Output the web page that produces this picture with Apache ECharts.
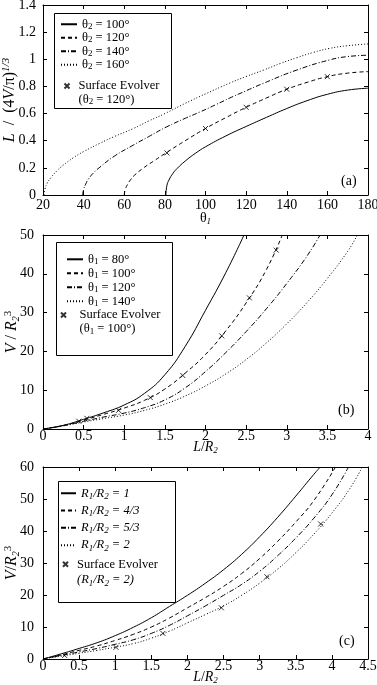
<!DOCTYPE html>
<html>
<head>
<meta charset="utf-8">
<script src="https://cdn.jsdelivr.net/npm/echarts@6/dist/echarts.min.js"></script>
<style>
html,body{margin:0;padding:0;background:#fff}
#main{width:377px;height:685px}
</style>
</head>
<body>
<div id="main"></div>
<script>
// (a) L/(4V/pi)^(1/3) against theta1, one curve per theta2
var a_t2_100 = [[80.5,0],[81,0.07],[82,0.11],[84,0.16],[86,0.195],[90,0.25],[95,0.307],[100,0.355],[110,0.435],[120,0.505],[130,0.572],[140,0.637],[150,0.695],[160,0.742],[170,0.773],[180,0.787]];
var a_t2_120 = [[60,0],[60.5,0.04],[61.5,0.075],[63,0.11],[65,0.145],[70,0.205],[75,0.255],[80,0.305],[90,0.4],[100,0.49],[110,0.57],[120,0.646],[130,0.715],[140,0.779],[150,0.83],[160,0.872],[170,0.898],[180,0.909]];
var a_t2_140 = [[39.5,0],[40,0.04],[41,0.08],[42.5,0.12],[45,0.165],[48,0.205],[55,0.285],[64.5,0.368],[72,0.43],[81,0.503],[90,0.565],[97,0.61],[105,0.665],[112,0.715],[117,0.748],[128.5,0.823],[145,0.921],[161,0.995],[170,1.02],[180,1.03]];
var a_t2_160 = [[20.5,0],[21,0.045],[22,0.085],[24,0.13],[27,0.18],[30,0.22],[35,0.275],[40,0.32],[48,0.381],[55,0.43],[64.5,0.49],[72,0.545],[80,0.6],[90,0.675],[100,0.745],[112,0.825],[120,0.873],[128.5,0.92],[137,0.97],[145,1.012],[153,1.05],[161,1.08],[170,1.1],[180,1.113]];
var a_evolver = [[81,0.31],[100,0.49],[120,0.646],[140,0.779],[160,0.872]];

// (b) V/R2^3 against L/R2, one curve per theta1
var b_t1_80 = [[0,0],[0.25,0.95],[0.5,2.5],[0.75,4.2],[1.0,6.2],[1.25,9.2],[1.5,14.0],[1.75,21.3],[2.0,30.6],[2.25,40.3],[2.474,50]];
var b_t1_100 = [[0,0],[0.25,0.9],[0.5,2.3],[0.75,3.8],[1.0,5.4],[1.25,7.4],[1.5,10.3],[1.75,14.4],[2.0,19.2],[2.25,25.3],[2.5,32.5],[2.75,41.1],[2.945,50]];
var b_t1_120 = [[0,0],[0.25,0.85],[0.5,2.0],[0.75,3.1],[1.0,4.1],[1.25,5.5],[1.5,7.5],[1.75,10.6],[2.0,14.8],[2.25,19.7],[2.5,25.1],[2.75,31.0],[3.0,37.5],[3.25,44.6],[3.41,50]];
var b_t1_140 = [[0,0],[0.25,0.8],[0.5,1.8],[0.75,2.7],[1.0,3.6],[1.25,4.8],[1.5,6.4],[1.75,8.5],[2.0,11.1],[2.25,14.2],[2.5,17.9],[2.75,22.2],[3.0,27.1],[3.25,32.6],[3.5,38.8],[3.75,45.8],[3.87,50]];
var b_evolver = [[0.44,2.0],[0.54,2.75],[0.93,4.8],[1.32,8.1],[1.72,13.8],[2.2,24.0],[2.54,33.8],[2.87,46.1]];

// (c) V/R2^3 against L/R2, one curve per R1/R2
var c_r_1 = [[0,0],[0.25,1.6],[0.5,3.3],[0.75,5.1],[1.0,7.3],[1.25,9.9],[1.5,12.9],[1.75,16.4],[2.0,19.9],[2.25,23.7],[2.5,27.9],[2.75,32.7],[3.0,38.2],[3.25,44.3],[3.5,50.9],[3.75,57.7],[3.84,60]];
var c_r_43 = [[0,0],[0.25,1.3],[0.5,2.7],[0.75,4.1],[1.0,5.8],[1.25,7.7],[1.5,10.0],[1.75,12.8],[2.0,16.0],[2.25,19.2],[2.5,22.7],[2.75,26.7],[3.0,31.4],[3.25,36.8],[3.5,42.8],[3.75,49.5],[4.05,60]];
var c_r_53 = [[0,0],[0.25,1.1],[0.5,2.2],[0.75,3.3],[1.0,4.6],[1.25,6.0],[1.5,8.0],[1.75,10.5],[2.0,13.5],[2.25,16.6],[2.5,19.9],[2.75,23.3],[3.0,27.4],[3.25,32.3],[3.5,37.8],[3.75,44.0],[4.0,51.3],[4.23,60]];
var c_r_2 = [[0,0],[0.25,0.9],[0.5,1.8],[0.75,2.7],[1.0,3.7],[1.25,4.8],[1.5,6.5],[1.75,8.7],[2.0,11.3],[2.25,13.9],[2.5,16.6],[2.75,19.9],[3.0,23.7],[3.25,28.1],[3.5,33.2],[3.75,39.0],[4.0,45.6],[4.25,53.3],[4.42,60]];
var c_evolver = [[0.3,1.1],[1.01,3.65],[1.66,8.0],[2.47,16.0],[3.1,25.7],[3.845,42.2]];

var legendText = {
  a1: 'θ{sub|2} = 100°', a2: 'θ{sub|2} = 120°', a3: 'θ{sub|2} = 140°', a4: 'θ{sub|2} = 160°',
  aSE: 'Surface Evolver\n(θ{sub|2} = 120°)',
  b1: 'θ{sub|1} = 80°', b2: 'θ{sub|1} = 100°', b3: 'θ{sub|1} = 120°', b4: 'θ{sub|1} = 140°',
  bSE: 'Surface Evolver\n(θ{sub|1} = 100°)',
  c1: '{i|R}{isub|1}{i|/R}{isub|2}{i| = 1}', c2: '{i|R}{isub|1}{i|/R}{isub|2}{i| = 4/3}',
  c3: '{i|R}{isub|1}{i|/R}{isub|2}{i| = 5/3}', c4: '{i|R}{isub|1}{i|/R}{isub|2}{i| = 2}',
  cSE: 'Surface Evolver\n{i|(R}{isub|1}{i|/R}{isub|2}{i| = 2)}'
};

var FONT = '"Liberation Serif", "Times New Roman", serif';
var rich = {
  i: {fontFamily: FONT, fontStyle: 'italic'},
  sub: {fontFamily: FONT, fontSize: 9, verticalAlign: 'bottom'},
  isub: {fontFamily: FONT, fontSize: 9, fontStyle: 'italic', verticalAlign: 'bottom'},
  sup: {fontFamily: FONT, fontSize: 9, verticalAlign: 'top'},
  isup: {fontFamily: FONT, fontSize: 9, fontStyle: 'italic', verticalAlign: 'top'}
};
// axis-name variant, a little larger
var richName = {
  i: {fontFamily: FONT, fontStyle: 'italic', fontSize: 16},
  sub: {fontFamily: FONT, fontSize: 10, verticalAlign: 'bottom'},
  isub: {fontFamily: FONT, fontSize: 10, fontStyle: 'italic', verticalAlign: 'bottom'},
  sup: {fontFamily: FONT, fontSize: 11, verticalAlign: 'top'},
  isup: {fontFamily: FONT, fontSize: 11, fontStyle: 'italic', verticalAlign: 'top'}
};

var SOLID = 'solid', DASH = [4, 3], DASHDOT = [5, 2, 1, 2], DOT = [1, 2];
var CROSS = 'path://M0,0L5,5M5,0L0,5';

var chart = echarts.init(document.getElementById('main'), null, {renderer: 'canvas'});

var grids = [
  {left: 43, top: 5, width: 325, height: 190},
  {left: 43, top: 235, width: 325, height: 194},
  {left: 43, top: 467, width: 325, height: 192}
];
var panels = [
  {x: [20, 180, 20], y: [0, 1.4, 0.2], xName: 'θ{isub|1}', yName: '{i|L}  /  (4{i|V}/π){isup|1/3}', xGap: 15, yGap: 24, xMargin: 3},
  {x: [0, 4, 0.5], y: [0, 50, 10], xName: '{i|L}/{i|R}{isub|2}', yName: '{i|V} / {i|R}{isub|2}{sup|3}', xGap: 10, yGap: 22, xMargin: 0},
  {x: [0, 4.5, 0.5], y: [0, 60, 10], xName: '{i|L}/{i|R}{isub|2}', yName: '{i|V}/{i|R}{isub|2}{sup|3}', xGap: 10, yGap: 22, xMargin: 0}
];

var xAxes = [], yAxes = [];
panels.forEach(function (p, g) {
  var tick = {inside: true, length: 4, lineStyle: {color: '#000', width: 1}};
  var line = {show: true, onZero: false, lineStyle: {color: '#000', width: 1}};
  xAxes.push({
    gridIndex: g, type: 'value', position: 'bottom', min: p.x[0], max: p.x[1], interval: p.x[2],
    axisLine: line, axisTick: tick, splitLine: {show: false},
    axisLabel: {color: '#000', fontFamily: FONT, fontSize: 14, margin: p.xMargin, showMinLabel: true, showMaxLabel: true, hideOverlap: false},
    name: p.xName, nameLocation: 'middle', nameGap: p.xGap,
    nameTextStyle: {fontFamily: FONT, fontSize: 14, color: '#000', lineHeight: 16, rich: rich}, nameMoveOverlap: false
  });
  xAxes.push({
    gridIndex: g, type: 'value', position: 'top', min: p.x[0], max: p.x[1], interval: p.x[2],
    axisLine: line, axisTick: tick, splitLine: {show: false}, axisLabel: {show: false}
  });
  yAxes.push({
    gridIndex: g, type: 'value', position: 'left', min: p.y[0], max: p.y[1], interval: p.y[2],
    axisLine: line, axisTick: tick, splitLine: {show: false},
    axisLabel: {color: '#000', fontFamily: FONT, fontSize: 14, margin: g === 0 ? 7 : 9, showMinLabel: true, showMaxLabel: true, hideOverlap: false},
    name: p.yName, nameLocation: 'middle', nameGap: p.yGap,
    nameTextStyle: {fontFamily: FONT, fontSize: 16, color: '#000', lineHeight: 18, rich: richName}, nameMoveOverlap: false
  });
  yAxes.push({
    gridIndex: g, type: 'value', position: 'right', min: p.y[0], max: p.y[1], interval: p.y[2],
    axisLine: line, axisTick: tick, splitLine: {show: false}, axisLabel: {show: false}
  });
});

function curve(name, data, dash, g) {
  return {
    name: name, type: 'line', data: data, xAxisIndex: g * 2, yAxisIndex: g * 2,
    symbol: 'none', showSymbol: false, smooth: 0.5,
    lineStyle: {color: '#000', width: 1, type: dash}, itemStyle: {color: '#000'},
    silent: true, animation: false
  };
}
function evolver(name, data, g) {
  return {
    name: name, type: 'scatter', data: data, xAxisIndex: g * 2, yAxisIndex: g * 2,
    symbol: CROSS, symbolSize: 5, symbolKeepAspect: true,
    itemStyle: {color: 'rgba(0,0,0,0)', borderColor: '#000', borderWidth: 1},
    silent: true, animation: false
  };
}

var series = [
  curve('a1', a_t2_100, SOLID, 0), curve('a2', a_t2_120, DASH, 0),
  curve('a3', a_t2_140, DASHDOT, 0), curve('a4', a_t2_160, DOT, 0),
  evolver('aSE', a_evolver, 0),
  curve('b1', b_t1_80, SOLID, 1), curve('b2', b_t1_100, DASH, 1),
  curve('b3', b_t1_120, DASHDOT, 1), curve('b4', b_t1_140, DOT, 1),
  evolver('bSE', b_evolver, 1),
  curve('c1', c_r_1, SOLID, 2), curve('c2', c_r_43, DASH, 2),
  curve('c3', c_r_53, DASHDOT, 2), curve('c4', c_r_2, DOT, 2),
  evolver('cSE', c_evolver, 2)
];

function fmt(name) { return legendText[name]; }
function legendStyle(lh, pad) {
  var s = {fontFamily: FONT, fontSize: 12.5, color: '#000', lineHeight: lh, rich: rich};
  if (pad) s.padding = pad;
  return s;
}
// line entries: hide the marker the line legend icon would draw
var noMarker = {opacity: 0};
var legends = [
  {orient: 'vertical', left: 60, top: 17.5, itemWidth: 16, itemHeight: 10, itemGap: 0, padding: 0, itemStyle: noMarker,
    data: ['a1', 'a2', 'a3', 'a4'], formatter: fmt, textStyle: legendStyle(13.5), selectedMode: false},
  {orient: 'vertical', left: 63.5, top: 65.75, itemWidth: 13, itemHeight: 5, padding: 0,
    data: ['aSE'], formatter: fmt, textStyle: legendStyle(13.5, [13.5, 0, 0, 0]), selectedMode: false},
  {orient: 'vertical', left: 66, top: 252.3, itemWidth: 16, itemHeight: 10, itemGap: 0, padding: 0, itemStyle: noMarker,
    data: ['b1', 'b2', 'b3', 'b4'], formatter: fmt, textStyle: legendStyle(14), selectedMode: false},
  {orient: 'vertical', left: 60, top: 294, itemWidth: 22, itemHeight: 5, padding: 0,
    data: ['bSE'], formatter: fmt, textStyle: legendStyle(14, [14, 0, 0, 0]), selectedMode: false},
  {orient: 'vertical', left: 60, top: 485.5, itemWidth: 15, itemHeight: 10, itemGap: 1.8, padding: 0, itemStyle: noMarker,
    data: ['c1', 'c2', 'c3', 'c4'], formatter: fmt, textStyle: legendStyle(15.5), selectedMode: false},
  {orient: 'vertical', left: 62, top: 540.7, itemWidth: 13, itemHeight: 5, padding: 0,
    data: ['cSE'], formatter: fmt, textStyle: legendStyle(15.7, [15.7, 0, 0, 0]), selectedMode: false}
];

function box(x1, y1, x2, y2) {
  return {type: 'rect', shape: {x: x1, y: y1, width: x2 - x1, height: y2 - y1},
    style: {fill: 'none', stroke: '#000', lineWidth: 1}, silent: true, z: 100};
}

chart.setOption({
  backgroundColor: '#fff',
  animation: false,
  grid: grids.map(function (g) { g.outerBoundsMode = 'none'; g.containLabel = false; return g; }),
  xAxis: xAxes,
  yAxis: yAxes,
  legend: legends,
  title: [
    {text: '(a)', left: 341, top: 174, padding: 0, textStyle: {fontFamily: FONT, fontSize: 14, fontWeight: 'normal', color: '#000'}},
    {text: '(b)', left: 338, top: 403, padding: 0, textStyle: {fontFamily: FONT, fontSize: 14, fontWeight: 'normal', color: '#000'}},
    {text: '(c)', left: 339, top: 634, padding: 0, textStyle: {fontFamily: FONT, fontSize: 14, fontWeight: 'normal', color: '#000'}}
  ],
  graphic: [box(54.5, 13.5, 171.5, 108.5), box(56.5, 242.5, 172.5, 355.5), box(58.5, 481.5, 175.5, 602.5)],
  series: series
});
</script>
</body>
</html>
